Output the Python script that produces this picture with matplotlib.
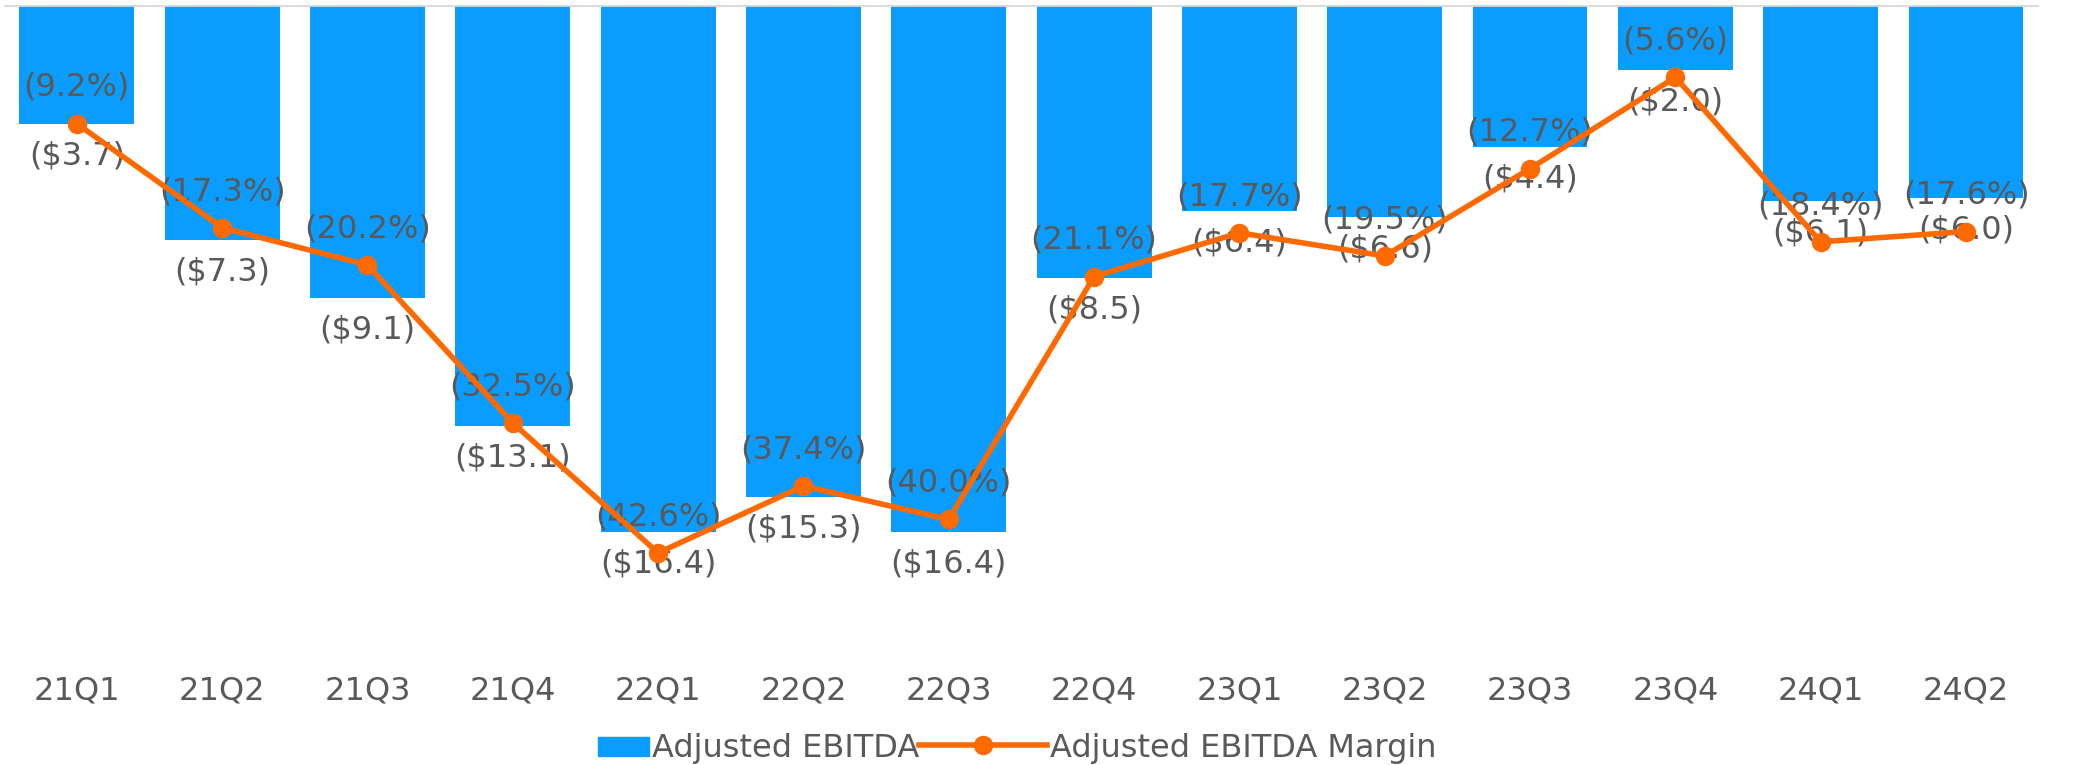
import numpy as np
import matplotlib
matplotlib.use('Agg')
import matplotlib.pyplot as plt
import matplotlib.patches as mpatches
from matplotlib.legend_handler import HandlerPatch

quarters = ['21Q1', '21Q2', '21Q3', '21Q4', '22Q1', '22Q2', '22Q3',
            '22Q4', '23Q1', '23Q2', '23Q3', '23Q4', '24Q1', '24Q2']
ebitda = [-3.7, -7.3, -9.1, -13.1, -16.4, -15.3, -16.4,
          -8.5, -6.4, -6.6, -4.4, -2.0, -6.1, -6.0]
margin = [-9.2, -17.3, -20.2, -32.5, -42.6, -37.4, -40.0,
          -21.1, -17.7, -19.5, -12.7, -5.6, -18.4, -17.6]

BLUE = '#0A9CFE'
ORANGE = '#FF6A00'
GREY = '#595959'
FS = 23

plt.rcParams['font.family'] = ['DejaVu Sans']


def narrow_patch(legend, orig_handle, xdescent, ydescent, width, height, fontsize):
    # excel draws a short box, not a full-length handle
    return mpatches.Rectangle((-xdescent + width * 0.6, -ydescent + height * 0.05),
                              width * 0.4, height * 0.85)


def main():
    fig = plt.figure(figsize=(20.74, 7.65), dpi=100)
    ax = fig.add_axes([0.002, 0.153, 0.981, 0.840])
    ax2 = ax.twinx()

    x = np.arange(len(quarters))
    ax.bar(x, ebitda, width=0.79, color=BLUE, zorder=2)
    ax.set_ylim(-20, 0)
    ax.set_xlim(-0.5, len(quarters) - 0.5)

    for xi, v in zip(x, ebitda):
        ax.annotate('(${:.1f})'.format(abs(v)), (xi, v), xytext=(0, -23),
                    textcoords='offset points', ha='center', va='center',
                    fontsize=FS, color=GREY)

    line, = ax2.plot(x, margin, color=ORANGE, lw=4, marker='o', markersize=13,
                     zorder=5)
    ax2.set_ylim(-50, 0)
    for xi, v in zip(x, margin):
        ax2.annotate('({:.1f}%)'.format(abs(v)), (xi, v), xytext=(0, 26),
                     textcoords='offset points', ha='center', va='center',
                     fontsize=FS, color=GREY, zorder=3)

    for a in (ax, ax2):
        for s in a.spines.values():
            s.set_visible(False)
        a.set_yticks([])
    ax.axhline(0, color='#D9D9D9', lw=2, zorder=3)

    ax.set_xticks(x)
    ax.set_xticklabels(quarters, fontsize=FS, color=GREY)
    ax.tick_params(axis='x', length=0, pad=20)

    box = mpatches.Rectangle((0, 0), 1, 1, color=BLUE)
    fig.legend([box, line], ['Adjusted EBITDA', 'Adjusted EBITDA Margin'],
               loc='center', bbox_to_anchor=(0.472, 0.022), ncol=2, frameon=False,
               fontsize=FS, labelcolor=GREY, handlelength=4.0, handletextpad=0.1,
               columnspacing=0.0, borderpad=0,
               handler_map={mpatches.Rectangle: HandlerPatch(patch_func=narrow_patch)})

    plt.savefig('out.png')


if __name__ == '__main__':
    main()
